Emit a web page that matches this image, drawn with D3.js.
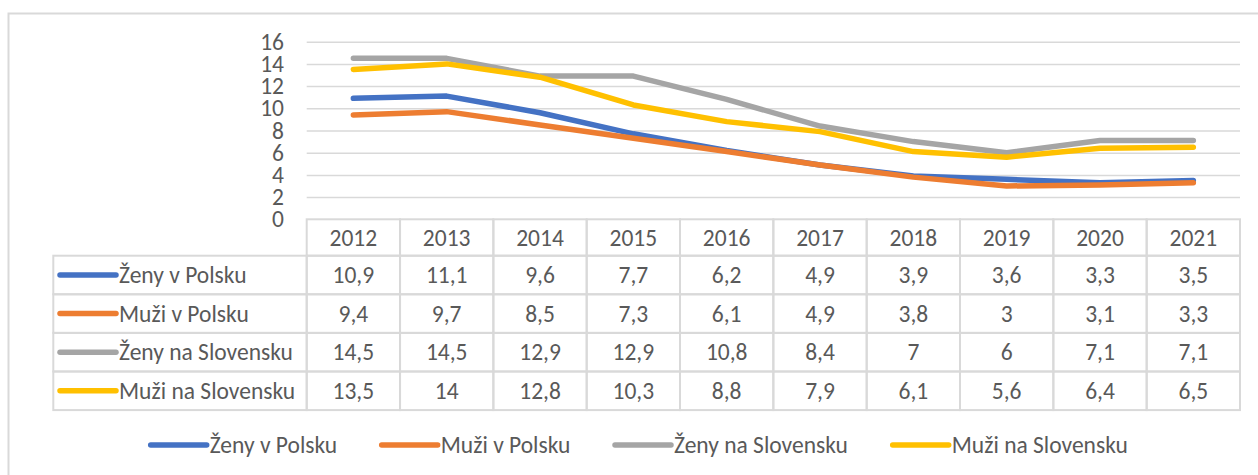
<!DOCTYPE html>
<html>
<head>
<meta charset="utf-8">
<script src="https://cdn.jsdelivr.net/npm/d3@7"></script>
<style>
  body { margin: 0; background: #fff; }
  svg text { font-family: Carlito, Calibri, Lato, sans-serif; fill: #595959; }
  .grid line { stroke: #d9d9d9; stroke-width: 1.5; }
  .cell { fill: none; stroke: #d9d9d9; stroke-width: 2; }
</style>
</head>
<body>
<svg id="chart" width="1258" height="475"></svg>
<script>
// data
const years = ["2012", "2013", "2014", "2015", "2016", "2017", "2018", "2019", "2020", "2021"];
const seriesNames = ["Ženy v Polsku", "Muži v Polsku", "Ženy na Slovensku", "Muži na Slovensku"];
const zenyPL = [10.9, 11.1, 9.6, 7.7, 6.2, 4.9, 3.9, 3.6, 3.3, 3.5];
const muziPL = [9.4, 9.7, 8.5, 7.3, 6.1, 4.9, 3.8, 3, 3.1, 3.3];
const zenySK = [14.5, 14.5, 12.9, 12.9, 10.8, 8.4, 7, 6, 7.1, 7.1];
const muziSK = [13.5, 14, 12.8, 10.3, 8.8, 7.9, 6.1, 5.6, 6.4, 6.5];
const yTicks = [0, 2, 4, 6, 8, 10, 12, 14, 16];
const colors = ["#4472c4", "#ed7d31", "#a5a5a5", "#ffc000"];

const series = seriesNames.map((name, i) => ({
  name: name,
  color: colors[i],
  values: [zenyPL, muziPL, zenySK, muziSK][i]
}));

const svg = d3.select("svg#chart");
const fmt = v => String(v).replace(".", ",");
const fontSize = 23.5;

// chart area frame (cut off on the right and bottom)
svg.append("rect")
  .attr("x", 8.5).attr("y", 13.5)
  .attr("width", 1300).attr("height", 500)
  .attr("fill", "none").attr("stroke", "#d9d9d9").attr("stroke-width", 2);

const x = d3.scaleBand().domain(years).range([306.7, 1240]).padding(0);
const y = d3.scaleLinear().domain([0, 16]).range([219.3, 41.7]);
const xc = d => x(d) + x.bandwidth() / 2;

// gridlines
svg.append("g").attr("class", "grid")
  .attr("transform", `translate(${x.range()[0]},0)`)
  .call(d3.axisLeft(y).tickValues(yTicks.slice(1)).tickSize(-(x.range()[1] - x.range()[0])).tickFormat(""))
  .call(g => g.select(".domain").remove());

// y tick labels
svg.append("g")
  .attr("transform", "translate(284,0)")
  .call(d3.axisLeft(y).tickValues(yTicks).tickSize(0).tickPadding(0))
  .call(g => g.select(".domain").remove())
  .selectAll("text")
  .attr("font-size", fontSize)
  .style("font-family", null)
  .attr("fill", null);

// lines
const line = d3.line()
  .x((d, i) => xc(years[i]))
  .y(d => y(d));

svg.append("g").selectAll("path.series")
  .data(series)
  .enter()
  .append("path")
  .attr("class", "series")
  .attr("d", d => line(d.values))
  .attr("fill", "none")
  .attr("stroke", d => d.color)
  .attr("stroke-width", 5.5)
  .attr("stroke-linecap", "round")
  .attr("stroke-linejoin", "round");

// data table
const headTop = 219.3, rowTop = 255.7, rowH = 38.6, keyLeft = 53.3;
const table = svg.append("g");

table.selectAll("rect.head")
  .data(years)
  .enter()
  .append("rect")
  .attr("class", "cell head")
  .attr("x", d => x(d)).attr("y", headTop)
  .attr("width", x.bandwidth()).attr("height", rowTop - headTop);

table.selectAll("text.year")
  .data(years)
  .enter()
  .append("text")
  .attr("class", "year")
  .attr("x", d => xc(d)).attr("y", (headTop + rowTop) / 2)
  .attr("dy", "0.35em")
  .attr("text-anchor", "middle")
  .attr("font-size", fontSize)
  .text(d => d);

const rows = table.selectAll("g.row")
  .data(series)
  .enter()
  .append("g")
  .attr("class", "row")
  .attr("transform", (d, i) => `translate(0,${rowTop + i * rowH})`);

rows.append("rect")
  .attr("class", "cell")
  .attr("x", keyLeft).attr("y", 0)
  .attr("width", x.range()[0] - keyLeft).attr("height", rowH);

rows.append("line")
  .attr("x1", 60).attr("x2", 116)
  .attr("y1", rowH / 2).attr("y2", rowH / 2)
  .attr("stroke", d => d.color)
  .attr("stroke-width", 5.5)
  .attr("stroke-linecap", "round");

rows.append("text")
  .attr("x", 119).attr("y", rowH / 2)
  .attr("dy", "0.35em")
  .attr("font-size", fontSize)
  .text(d => d.name);

rows.selectAll("rect.val")
  .data(d => d.values)
  .enter()
  .append("rect")
  .attr("class", "cell val")
  .attr("x", (v, i) => x(years[i])).attr("y", 0)
  .attr("width", x.bandwidth()).attr("height", rowH);

rows.selectAll("text.val")
  .data(d => d.values)
  .enter()
  .append("text")
  .attr("class", "val")
  .attr("x", (v, i) => xc(years[i])).attr("y", rowH / 2)
  .attr("dy", "0.35em")
  .attr("text-anchor", "middle")
  .attr("font-size", fontSize)
  .text(v => fmt(v));

// bottom legend
const legendX = [150.7, 381.7, 615, 892.7];
const legend = svg.append("g").selectAll("g.legend")
  .data(series)
  .enter()
  .append("g")
  .attr("class", "legend")
  .attr("transform", (d, i) => `translate(${legendX[i]},445)`);

legend.append("line")
  .attr("x1", 0).attr("x2", 56)
  .attr("stroke", d => d.color)
  .attr("stroke-width", 5.5)
  .attr("stroke-linecap", "round");

legend.append("text")
  .attr("x", 59)
  .attr("dy", "0.35em")
  .attr("font-size", fontSize)
  .text(d => d.name);
</script>
</body>
</html>
